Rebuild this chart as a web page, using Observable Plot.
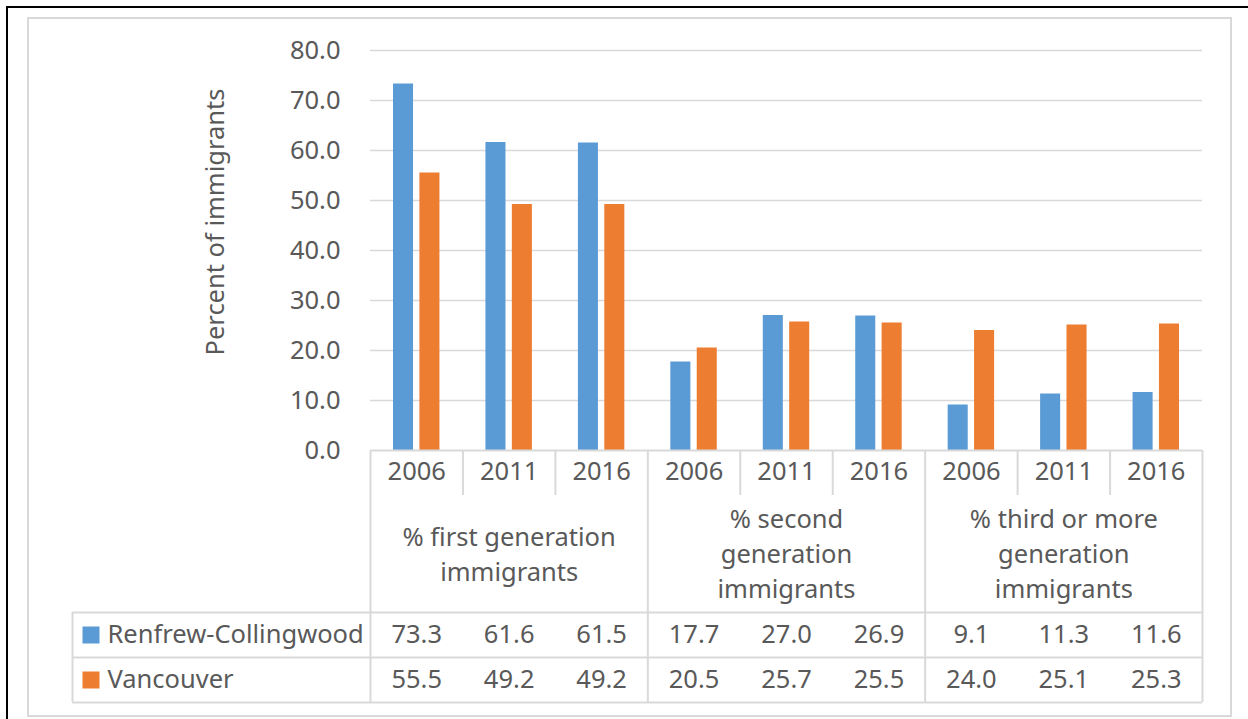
<!DOCTYPE html>
<html>
<head>
<meta charset="utf-8">
<script src="https://cdn.jsdelivr.net/npm/d3@7"></script>
<script src="https://cdn.jsdelivr.net/npm/@observablehq/plot@0.6"></script>
<style>
  body { margin: 0; background: #fff; }
  #wrap { position: relative; width: 1248px; height: 719px; overflow: hidden; }
  #outer { position: absolute; left: 6px; top: 6px; width: 1260px; height: 730px;
           border-left: 2px solid #000; border-top: 2px solid #000; }
  #inner { position: absolute; left: 27px; top: 17px; width: 1201px; height: 696px;
           border: 2px solid #d9d9d9; }
  #chart { position: absolute; left: 0; top: 0; }
</style>
</head>
<body>
<div id="wrap">
  <div id="outer"></div>
  <div id="inner"></div>
  <div id="chart"></div>
</div>
<script>
// valeurs
const groups = ["% first generation\nimmigrants", "% second\ngeneration\nimmigrants", "% third or more\ngeneration\nimmigrants"]
const years = ["2006", "2011", "2016"]
const series = ["Renfrew-Collingwood", "Vancouver"]
const renfrew = [73.3, 61.6, 61.5, 17.7, 27.0, 26.9, 9.1, 11.3, 11.6]
const vancouver = [55.5, 49.2, 49.2, 20.5, 25.7, 25.5, 24.0, 25.1, 25.3]
const yTicks = [0, 10, 20, 30, 40, 50, 60, 70, 80]

const colors = ["#5b9bd5", "#ed7d31"]
const ink = "#595959"
const line = "#d9d9d9"
const fs = 25.5

// une ligne par colonne (groupe x année)
const cols = []
groups.forEach((g, gi) => years.forEach((yr, yi) => {
  const i = gi * 3 + yi
  cols.push({i, group: g, year: yr, renfrew: renfrew[i], vancouver: vancouver[i]})
}))
const bars = cols.flatMap(d => [
  {i: d.i, s: series[0], v: d.renfrew},
  {i: d.i, s: series[1], v: d.vancouver}
])

// lignes du tableau (en unités de l'axe y)
const rowYear = -4.2, rowGroupTop = -9, rowGroup = -20.3
const rowTop = -32.4, rowMid = -41.4, rowBot = -50.4
const rowR = -36.9, rowV = -45.9
const legendLeft = -298 / (832 / 9)

let chart = Plot.plot({
  width: 1248,
  height: 719,
  marginLeft: 370,
  marginRight: 46,
  marginTop: 50,
  marginBottom: 17,
  x: {domain: [0, 9], axis: null},
  y: {domain: [rowBot, 80], axis: null},
  color: {domain: series, range: colors},
  style: {fontFamily: "'Segoe UI', 'Noto Sans', 'Open Sans', sans-serif", fontSize: fs + "px", color: ink, background: "transparent", overflow: "visible"},
  marks: [
    Plot.ruleY(yTicks.slice(1), {x1: 0, x2: 9, stroke: line, strokeWidth: 1.5}),
    Plot.axisY(yTicks, {label: null, tickSize: 0, tickPadding: 30, tickFormat: d3.format(".1f"), fontSize: fs, fill: ink}),
    Plot.text(["Percent of immigrants"], {frameAnchor: "left", y: 45.7, dx: -155, rotate: -90, textAnchor: "middle", fontSize: fs, fill: ink}),
    Plot.rectY(bars.filter(d => d.s === series[0]), {x1: "i", x2: d => d.i + 1, y: "v", fill: "s", insetLeft: 23, insetRight: 49.4}),
    Plot.rectY(bars.filter(d => d.s === series[1]), {x1: "i", x2: d => d.i + 1, y: "v", fill: "s", insetLeft: 49.4, insetRight: 23}),
    // tableau
    Plot.ruleY([0], {x1: 0, x2: 9, stroke: line, strokeWidth: 2}),
    Plot.ruleY([rowTop, rowMid, rowBot], {x1: legendLeft, x2: 9, stroke: line, strokeWidth: 2}),
    Plot.ruleX([0, 3, 6, 9], {y1: 0, y2: rowBot, stroke: line, strokeWidth: 2}),
    Plot.ruleX([1, 2, 4, 5, 7, 8], {y1: 0, y2: rowGroupTop, stroke: line, strokeWidth: 2}),
    Plot.ruleX([legendLeft], {y1: rowTop, y2: rowBot, stroke: line, strokeWidth: 2}),
    Plot.text(cols, {x: d => d.i + 0.5, y: rowYear, text: "year", fontSize: fs, fill: ink}),
    Plot.text(groups, {x: (d, k) => k * 3 + 1.5, y: rowGroup, text: d => d, lineHeight: 1.38, fontSize: fs, fill: ink}),
    Plot.text(cols, {x: d => d.i + 0.5, y: rowR, text: d => d.renfrew.toFixed(1), fontSize: fs, fill: ink}),
    Plot.text(cols, {x: d => d.i + 0.5, y: rowV, text: d => d.vancouver.toFixed(1), fontSize: fs, fill: ink}),
    // légende
    Plot.dot(series, {frameAnchor: "left", y: (d, k) => k === 0 ? rowR : rowV, dx: -279.5, symbol: "square", r: 9.6, fill: d => d, stroke: null}),
    Plot.text(series, {frameAnchor: "left", y: (d, k) => k === 0 ? rowR : rowV, dx: -263, text: d => d, textAnchor: "start", fontSize: fs, fill: ink})
  ]
})
d3.select("#chart").append(() => chart)
</script>
</body>
</html>
